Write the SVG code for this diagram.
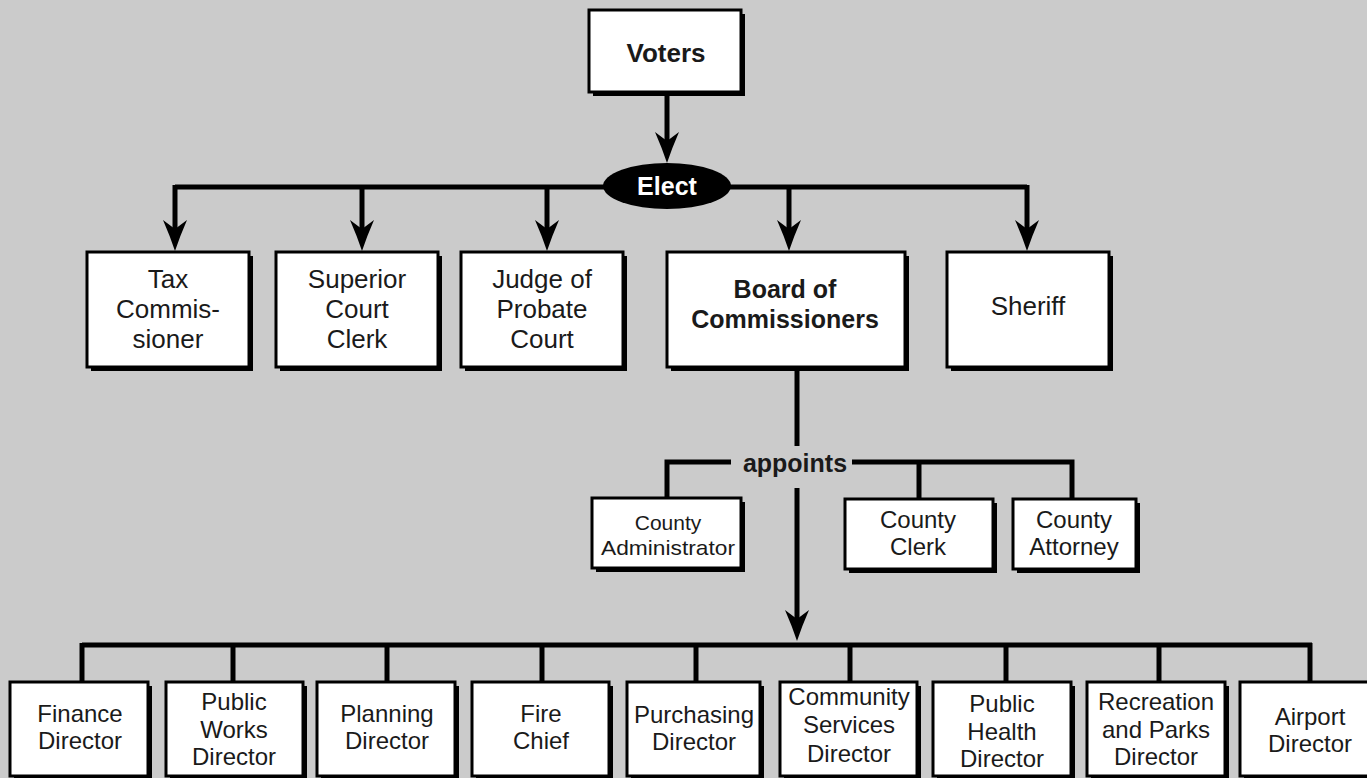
<svg xmlns="http://www.w3.org/2000/svg" width="1367" height="778" viewBox="0 0 1367 778">
<style>
.bg{fill:#cbcbcb}
.sh{fill:#000}
.bx{fill:#fff;stroke:#000;stroke-width:3}
.t{font-family:"Liberation Sans",Arial,Helvetica,sans-serif;fill:#1a1a1a;text-anchor:middle}
.n26{font-size:26px}
.n24{font-size:24px}
.b{font-weight:bold}
.ln{stroke:#000;stroke-width:5;fill:none}
</style>
<defs>
<path id="ah" d="M0,0 Q-5,-15 -12,-31 L0,-22 L12,-31 Q5,-15 0,0 Z" fill="#000"/>
</defs>
<rect class="bg" x="0" y="0" width="1367" height="778"/>

<g id="connectors">
  <line class="ln" x1="667" y1="92" x2="667" y2="154"/>
  <use href="#ah" x="667" y="163"/>
  <line class="ln" x1="175" y1="187" x2="1027" y2="187"/>
  <line class="ln" x1="175" y1="185" x2="175" y2="240"/>
  <use href="#ah" x="175" y="251"/>
  <line class="ln" x1="362" y1="187" x2="362" y2="240"/>
  <use href="#ah" x="362" y="251"/>
  <line class="ln" x1="547" y1="187" x2="547" y2="240"/>
  <use href="#ah" x="547" y="251"/>
  <line class="ln" x1="789" y1="187" x2="789" y2="240"/>
  <use href="#ah" x="789" y="251"/>
  <line class="ln" x1="1027" y1="185" x2="1027" y2="240"/>
  <use href="#ah" x="1027" y="251"/>

  <line class="ln" x1="797" y1="367" x2="797" y2="446"/>
  <polyline class="ln" points="667,498 667,462 731,462"/>
  <polyline class="ln" points="852,462 1072,462 1072,499"/>
  <line class="ln" x1="919" y1="462" x2="919" y2="499"/>
  <line class="ln" x1="797" y1="488" x2="797" y2="630"/>
  <use href="#ah" x="797" y="641"/>

  <line class="ln" x1="82" y1="645" x2="1312" y2="645"/>
  <line class="ln" x1="82" y1="643" x2="82" y2="682"/>
  <line class="ln" x1="233" y1="645" x2="233" y2="682"/>
  <line class="ln" x1="387" y1="645" x2="387" y2="682"/>
  <line class="ln" x1="542" y1="645" x2="542" y2="682"/>
  <line class="ln" x1="696" y1="645" x2="696" y2="682"/>
  <line class="ln" x1="850" y1="645" x2="850" y2="682"/>
  <line class="ln" x1="1006" y1="645" x2="1006" y2="682"/>
  <line class="ln" x1="1159" y1="645" x2="1159" y2="682"/>
  <line class="ln" x1="1310" y1="643" x2="1310" y2="682"/>
</g>

<g id="voters">
  <rect class="sh" x="593" y="14" width="152" height="82"/>
  <rect class="bx" x="589" y="10" width="152" height="82"/>
  <text class="t n26 b" x="666" y="62">Voters</text>
</g>

<g id="elect">
  <ellipse cx="667" cy="186" rx="64" ry="23" fill="#000"/>
  <text class="t b" style="font-size:25px;fill:#fff" x="667" y="195">Elect</text>
</g>

<g id="tax">
  <rect class="sh" x="91" y="256" width="162" height="115"/>
  <rect class="bx" x="87" y="252" width="162" height="115"/>
  <text class="t n26" x="168" y="288">Tax</text>
  <text class="t n26" x="168" y="318">Commis-</text>
  <text class="t n26" x="168" y="348">sioner</text>
</g>

<g id="superior">
  <rect class="sh" x="280" y="256" width="162" height="115"/>
  <rect class="bx" x="276" y="252" width="162" height="115"/>
  <text class="t n26" x="357" y="288">Superior</text>
  <text class="t n26" x="357" y="318">Court</text>
  <text class="t n26" x="357" y="348">Clerk</text>
</g>

<g id="judge">
  <rect class="sh" x="465" y="256" width="162" height="115"/>
  <rect class="bx" x="461" y="252" width="162" height="115"/>
  <text class="t n26" x="542" y="288">Judge of</text>
  <text class="t n26" x="542" y="318">Probate</text>
  <text class="t n26" x="542" y="348">Court</text>
</g>

<g id="board">
  <rect class="sh" x="671" y="256" width="238" height="115"/>
  <rect class="bx" x="667" y="252" width="238" height="115"/>
  <text class="t b" style="font-size:25px" x="785" y="298">Board of</text>
  <text class="t b" style="font-size:25px" x="785" y="328">Commissioners</text>
</g>

<g id="sheriff">
  <rect class="sh" x="951" y="256" width="162" height="115"/>
  <rect class="bx" x="947" y="252" width="162" height="115"/>
  <text class="t n26" x="1028" y="315">Sheriff</text>
</g>

<g id="appoints">
  <text class="t b" style="font-size:25px" x="795" y="472">appoints</text>
</g>

<g id="county-administrator">
  <rect class="sh" x="596" y="502" width="149" height="70"/>
  <rect class="bx" x="592" y="498" width="149" height="70"/>
  <text class="t" style="font-size:21px" x="668" y="530">County</text>
  <text class="t" style="font-size:21px" x="668" y="555" textLength="134" lengthAdjust="spacingAndGlyphs">Administrator</text>
</g>

<g id="county-clerk">
  <rect class="sh" x="849" y="503" width="148" height="70"/>
  <rect class="bx" x="845" y="499" width="148" height="70"/>
  <text class="t n24" x="918" y="528">County</text>
  <text class="t n24" x="918" y="555">Clerk</text>
</g>

<g id="county-attorney">
  <rect class="sh" x="1017" y="503" width="123" height="70"/>
  <rect class="bx" x="1013" y="499" width="123" height="70"/>
  <text class="t n24" x="1074" y="528">County</text>
  <text class="t n24" x="1074" y="555">Attorney</text>
</g>

<g id="finance">
  <rect class="sh" x="14" y="686" width="138" height="94"/>
  <rect class="bx" x="10" y="682" width="138" height="94"/>
  <text class="t n24" x="80" y="722">Finance</text>
  <text class="t n24" x="80" y="749">Director</text>
</g>

<g id="public-works">
  <rect class="sh" x="170" y="686" width="137" height="94"/>
  <rect class="bx" x="166" y="682" width="137" height="94"/>
  <text class="t n24" x="234" y="710">Public</text>
  <text class="t n24" x="234" y="738">Works</text>
  <text class="t n24" x="234" y="765">Director</text>
</g>

<g id="planning">
  <rect class="sh" x="321" y="686" width="138" height="94"/>
  <rect class="bx" x="317" y="682" width="138" height="94"/>
  <text class="t n24" x="387" y="722">Planning</text>
  <text class="t n24" x="387" y="749">Director</text>
</g>

<g id="fire">
  <rect class="sh" x="476" y="686" width="137" height="94"/>
  <rect class="bx" x="472" y="682" width="137" height="94"/>
  <text class="t n24" x="541" y="722">Fire</text>
  <text class="t n24" x="541" y="749">Chief</text>
</g>

<g id="purchasing">
  <rect class="sh" x="631" y="686" width="133" height="94"/>
  <rect class="bx" x="627" y="682" width="133" height="94"/>
  <text class="t n24" x="694" y="723">Purchasing</text>
  <text class="t n24" x="694" y="750">Director</text>
</g>

<g id="community-services">
  <rect class="sh" x="784" y="686" width="137" height="94"/>
  <rect class="bx" x="780" y="682" width="137" height="94"/>
  <text class="t n24" x="849" y="705">Community</text>
  <text class="t n24" x="849" y="733">Services</text>
  <text class="t n24" x="849" y="762">Director</text>
</g>

<g id="public-health">
  <rect class="sh" x="937" y="686" width="138" height="94"/>
  <rect class="bx" x="933" y="682" width="138" height="94"/>
  <text class="t n24" x="1002" y="712">Public</text>
  <text class="t n24" x="1002" y="740">Health</text>
  <text class="t n24" x="1002" y="767">Director</text>
</g>

<g id="recreation-parks">
  <rect class="sh" x="1091" y="686" width="138" height="94"/>
  <rect class="bx" x="1087" y="682" width="138" height="94"/>
  <text class="t n24" x="1156" y="710">Recreation</text>
  <text class="t n24" x="1156" y="738">and Parks</text>
  <text class="t n24" x="1156" y="765">Director</text>
</g>

<g id="airport">
  <rect class="sh" x="1244" y="686" width="140" height="94"/>
  <rect class="bx" x="1240" y="682" width="140" height="94"/>
  <text class="t n24" x="1310" y="725">Airport</text>
  <text class="t n24" x="1310" y="752">Director</text>
</g>
</svg>
